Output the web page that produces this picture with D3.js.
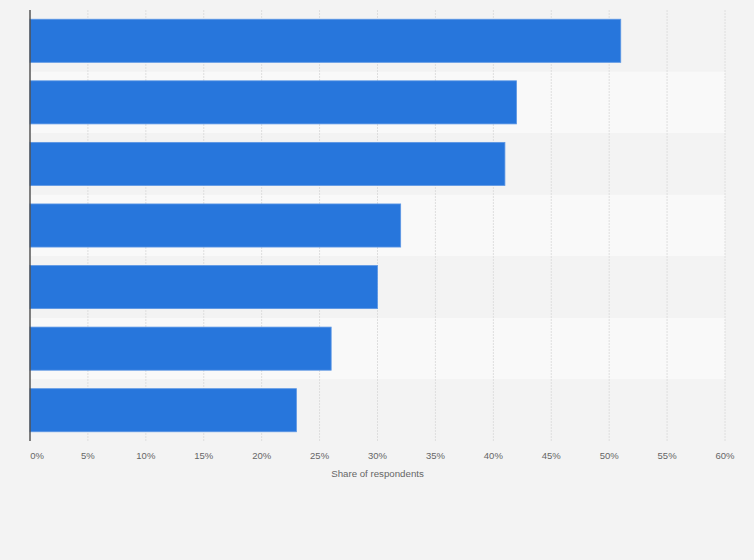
<!DOCTYPE html>
<head>
    <meta charset="utf-8">
    <script src="https://d3js.org/d3.v7.min.js"></script>
    <style>
      body { margin: 0; background: #f3f3f3; }
      text { font-family: Arial, "Liberation Sans", sans-serif; fill: #666; }
      .ticklabel { font-size: 9.5px; }
      .axistitle { font-size: 9.7px; }
    </style>
</head>
<body>
    <script>
        // data
        var categories = ["A", "B", "C", "D", "E", "F", "G"]
        var values = [51, 42, 41, 32, 30, 26, 23]
        var tickValues = [0, 5, 10, 15, 20, 25, 30, 35, 40, 45, 50, 55, 60]

        var svg_w = 754, svg_h = 560
        var plotLeft = 30, plotRight = 725, plotTop = 10, plotBottom = 441

        var svg = d3.select("body")
          .append("svg")
          .attr("width", svg_w)
          .attr("height", svg_h)

        svg.append("rect")
          .attr("width", svg_w).attr("height", svg_h)
          .attr("fill", "#f3f3f3")

        var x = d3.scaleLinear().domain([0, 60]).range([plotLeft, plotRight])
        var y = d3.scaleBand().domain(categories).range([plotTop, plotBottom]).padding(0)

        // alternating bands
        svg.selectAll(".band")
          .data(categories)
          .enter()
          .append("rect")
          .attr("x", plotLeft)
          .attr("y", function(d){ return y(d) })
          .attr("width", plotRight - plotLeft)
          .attr("height", y.bandwidth())
          .attr("fill", function(d, i){ return i % 2 == 1 ? "#f9f9f9" : "#f3f3f3" })

        // grid
        svg.selectAll(".grid")
          .data(tickValues.slice(1))
          .enter()
          .append("line")
          .attr("x1", function(d){ return x(d) })
          .attr("x2", function(d){ return x(d) })
          .attr("y1", plotTop)
          .attr("y2", plotBottom)
          .attr("stroke", "#dedede")
          .attr("stroke-width", 1)
          .attr("stroke-dasharray", "2,1")

        // bars
        var barH = y.bandwidth() * 0.7
        svg.selectAll(".bar")
          .data(values)
          .enter()
          .append("rect")
          .attr("x", x(0))
          .attr("y", function(d, i){ return y(categories[i]) + (y.bandwidth() - barH) / 2 })
          .attr("width", function(d){ return x(d) - x(0) })
          .attr("height", barH)
          .attr("fill", "#2776dc")
          .attr("stroke", "#5d97e4")
          .attr("stroke-width", 0.8)

        // y axis line
        svg.append("line")
          .attr("x1", plotLeft).attr("x2", plotLeft)
          .attr("y1", plotTop).attr("y2", plotBottom)
          .attr("stroke", "#4a4a4a")
          .attr("stroke-width", 1.4)

        // tick labels
        svg.selectAll(".ticklabel")
          .data(tickValues)
          .enter()
          .append("text")
          .classed("ticklabel", true)
          .attr("x", function(d){ return x(d) + (d == 0 ? 7 : 0) })
          .attr("y", 459)
          .attr("text-anchor", "middle")
          .text(function(d){ return d + "%" })

        svg.append("text")
          .classed("axistitle", true)
          .attr("x", (plotLeft + plotRight) / 2)
          .attr("y", 477)
          .attr("text-anchor", "middle")
          .text("Share of respondents")
    </script>
</body>
